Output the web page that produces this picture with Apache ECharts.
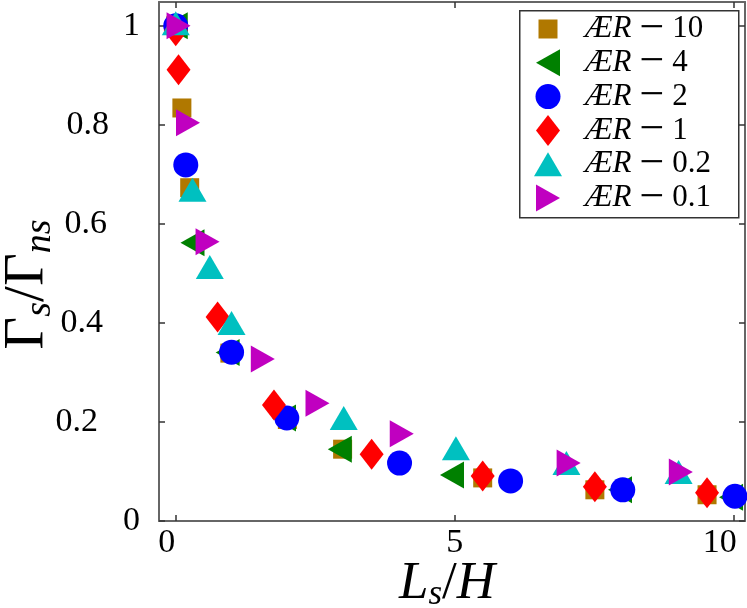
<!DOCTYPE html>
<html>
<head>
<meta charset="utf-8">
<script src="https://cdn.jsdelivr.net/npm/echarts@6/dist/echarts.min.js"></script>
<style>
    html, body { margin: 0; padding: 0; background: #fff; }
    #chart1 { width: 747px; height: 608px; }
</style>
</head>
<body>
<div id="chart1"></div>
<script>
// data
var seriesNames = ['ÆR − 10', 'ÆR − 4', 'ÆR − 2', 'ÆR − 1', 'ÆR − 0.2', 'ÆR − 0.1'];

var ar10X = [0, 0.11, 0.25, 0.97, 2.0, 2.99, 5.5, 7.51, 9.52];
var ar10Y = [1.0, 0.834, 0.673, 0.339, 0.205, 0.145, 0.087, 0.063, 0.053];

var ar4X = [0, 0.3, 0.93, 1.94, 2.94, 4.95, 7.96, 9.95];
var ar4Y = [1.0, 0.562, 0.34, 0.208, 0.145, 0.093, 0.063, 0.048];

var ar2X = [0, 0.18, 1.0, 1.99, 4.01, 6.0, 8.01, 10.02];
var ar2Y = [1.0, 0.719, 0.341, 0.208, 0.117, 0.081, 0.063, 0.05];

var ar1X = [0, 0.05, 0.75, 1.76, 3.51, 5.5, 7.51, 9.52];
var ar1Y = [0.99, 0.911, 0.412, 0.234, 0.135, 0.091, 0.069, 0.057];

var ar02X = [0, 0.3, 0.61, 1.0, 3.01, 5.02, 7.0, 9.01];
var ar02Y = [1.005, 0.669, 0.513, 0.4, 0.208, 0.147, 0.117, 0.099];

var ar01X = [0.05, 0.22, 0.57, 1.56, 2.54, 4.05, 7.04, 9.05];
var ar01Y = [1.0, 0.804, 0.564, 0.327, 0.238, 0.176, 0.117, 0.099];

var xTicks = [0, 5, 10];
var yTicks = [0, 0.2, 0.4, 0.6, 0.8, 1];

// marker look for each series (legend icons for the sideways triangles are drawn as paths)
var markers = [
    { symbol: 'rect', size: [19, 19], rotate: 0, color: '#b07800', icon: 'rect', iconSize: [19, 19] },
    { symbol: 'triangle', size: [27, 24], rotate: 90, color: '#008000', icon: 'path://M0,13.5L24,0L24,27Z', iconSize: [24, 27] },
    { symbol: 'circle', size: [25, 25], rotate: 0, color: '#0000ff', icon: 'circle', iconSize: [25, 25] },
    { symbol: 'diamond', size: [24, 31], rotate: 0, color: '#ff0000', icon: 'diamond', iconSize: [24, 31] },
    { symbol: 'triangle', size: [28, 24], rotate: 0, color: '#00c0c0', icon: 'triangle', iconSize: [28, 24] },
    { symbol: 'triangle', size: [27, 24], rotate: -90, color: '#c000c0', icon: 'path://M0,0L24,13.5L0,27Z', iconSize: [24, 27] }
];

var FONT = '"Liberation Serif", "Times New Roman", serif';
var LEGEND_LH = 50;
var xList = [ar10X, ar4X, ar2X, ar1X, ar02X, ar01X];
var yList = [ar10Y, ar4Y, ar2Y, ar1Y, ar02Y, ar01Y];

// the tick labels in the original are not quite centred on their ticks
var xLabelPad = { 0: 18, 5: 0, 10: 28 };
var yLabelPad = { 0: 0, 0.2: 42, 0.4: 37, 0.6: 33, 0.8: 31, 1: 0 };

var pairs = function (xs, ys) {
    var out = [];
    for (var i = 0; i < xs.length; i++) {
        out.push([xs[i], ys[i]]);
    }
    return out;
};

var series = [];
var legends = [];
for (var k = 0; k < seriesNames.length; k++) {
    var m = markers[k];
    series.push({
        name: seriesNames[k],
        type: 'scatter',
        xAxisIndex: 0,
        yAxisIndex: 0,
        symbol: m.symbol,
        symbolSize: m.size,
        symbolRotate: m.rotate,
        itemStyle: { color: m.color, opacity: 1 },
        emphasis: { disabled: true },
        data: pairs(xList[k], yList[k])
    });
    var rowCenter = 29 + k * 33.8;
    // text box (LEGEND_LH) is taller than every icon, so the legend box is centred on the text
    legends.push({
        data: [{ name: seriesNames[k], icon: m.icon }],
        orient: 'vertical',
        left: 548 - m.iconSize[0] / 2,
        top: rowCenter - LEGEND_LH / 2,
        padding: 0,
        itemWidth: m.iconSize[0],
        itemHeight: m.iconSize[1],
        symbolKeepAspect: false,
        selectedMode: false,
        formatter: function (name) {
            return '{i|ÆR}{m|−}{n|' + name.replace('ÆR − ', '') + '}';
        },
        textStyle: {
            fontFamily: FONT,
            fontSize: 31,
            color: '#000',
            lineHeight: LEGEND_LH,
            rich: {
                i: {
                    fontFamily: FONT,
                    fontSize: 31,
                    fontStyle: 'italic',
                    lineHeight: LEGEND_LH,
                    padding: [0, 0, 0, 585 - (548 + m.iconSize[0] / 2 + 5)]
                },
                m: {
                    fontFamily: FONT,
                    fontSize: 44,
                    lineHeight: LEGEND_LH,
                    padding: [0, 8, 0, 8]
                },
                n: {
                    fontFamily: FONT,
                    fontSize: 31,
                    lineHeight: LEGEND_LH
                }
            }
        }
    });
}

var axisLineStyle = { color: '#666', width: 2 };
var tickStyle = { color: '#333', width: 1.5 };

var myChart = echarts.init(document.getElementById('chart1'));
var option = {
    animation: false,
    backgroundColor: '#fff',
    grid: { left: 159, right: 2, top: 2, bottom: 87, outerBoundsMode: 'none' },
    legend: legends,
    graphic: [{
        type: 'rect',
        left: 519,
        top: 10,
        z: -1,
        shape: { width: 219, height: 207 },
        style: { fill: '#fff', stroke: '#333', lineWidth: 1.5 }
    }],
    xAxis: [{
        type: 'value',
        position: 'bottom',
        min: -0.3,
        max: 10.2,
        splitLine: { show: false },
        axisLine: { onZero: false, lineStyle: axisLineStyle },
        axisTick: { inside: true, length: 6, customValues: xTicks, lineStyle: tickStyle },
        axisLabel: {
            customValues: xTicks,
            margin: 5,
            formatter: function (v) {
                return '{p' + v + '|' + v + '}';
            },
            rich: {
                p0: { fontFamily: FONT, fontSize: 34, color: '#000', padding: [0, xLabelPad[0], 0, 0] },
                p5: { fontFamily: FONT, fontSize: 34, color: '#000', padding: [0, xLabelPad[5], 0, 0] },
                p10: { fontFamily: FONT, fontSize: 34, color: '#000', padding: [0, xLabelPad[10], 0, 0] }
            }
        },
        name: '{i|L}{s|s}{g|/}{i|H}',
        nameLocation: 'middle',
        nameGap: 35,
        nameMoveOverlap: false,
        nameTextStyle: {
            padding: [0, 10, 0, 0],
            rich: {
                i: { fontFamily: FONT, fontSize: 53, fontStyle: 'italic', color: '#000', lineHeight: 56 },
                g: { fontFamily: FONT, fontSize: 53, color: '#000', lineHeight: 56 },
                s: { fontFamily: FONT, fontSize: 35, fontStyle: 'italic', color: '#000', lineHeight: 35, verticalAlign: 'bottom' }
            }
        }
    }, {
        type: 'value',
        position: 'top',
        min: -0.3,
        max: 10.2,
        splitLine: { show: false },
        axisLine: { onZero: false, lineStyle: axisLineStyle },
        axisTick: { inside: true, length: 6, customValues: xTicks, lineStyle: tickStyle },
        axisLabel: { show: false }
    }],
    yAxis: [{
        type: 'value',
        position: 'left',
        min: 0,
        max: 1.048,
        splitLine: { show: false },
        axisLine: { onZero: false, lineStyle: axisLineStyle },
        axisTick: { inside: true, length: 6, customValues: yTicks, lineStyle: tickStyle },
        axisLabel: {
            customValues: yTicks,
            margin: 19,
            formatter: function (v) {
                var key = 'p' + String(v).replace('.', '_');
                return '{' + key + '|' + v + '}';
            },
            rich: (function () {
                var r = {};
                for (var i = 0; i < yTicks.length; i++) {
                    r['p' + String(yTicks[i]).replace('.', '_')] = {
                        fontFamily: FONT, fontSize: 34, color: '#000',
                        padding: [0, yLabelPad[yTicks[i]], 0, 0]
                    };
                }
                return r;
            })()
        },
        name: '{g|Γ}{s|s}{g|/Γ}{s|ns}',
        nameLocation: 'middle',
        nameGap: 100,
        nameMoveOverlap: false,
        nameTextStyle: {
            padding: [0, 46, 0, 0],
            rich: {
                g: { fontFamily: FONT, fontSize: 57, color: '#000', lineHeight: 62 },
                s: { fontFamily: FONT, fontSize: 38, fontStyle: 'italic', color: '#000', lineHeight: 38, verticalAlign: 'bottom' }
            }
        }
    }, {
        type: 'value',
        position: 'right',
        min: 0,
        max: 1.048,
        splitLine: { show: false },
        axisLine: { onZero: false, lineStyle: axisLineStyle },
        axisTick: { inside: true, length: 6, customValues: yTicks, lineStyle: tickStyle },
        axisLabel: { show: false }
    }],
    series: series
};
myChart.setOption(option);
</script>
</body>
</html>
